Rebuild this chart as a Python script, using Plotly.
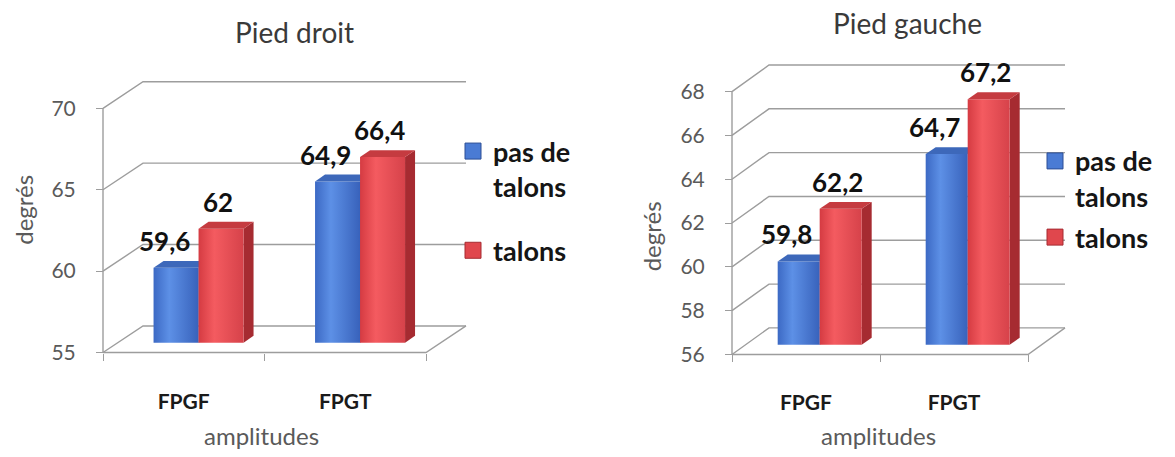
import plotly.graph_objects as go

W, H = 1175, 457

# ---- data -------------------------------------------------------------
categories = ["FPGF", "FPGT"]
series_names = ["pas de<br>talons", "talons"]

droit_sans_talons = [59.6, 64.9]
droit_talons = [62.0, 66.4]
gauche_sans_talons = [59.8, 64.7]
gauche_talons = [62.2, 67.2]

droit_ticks = [55, 60, 65, 70]
gauche_ticks = [56, 58, 60, 62, 64, 66, 68]

# ---- styling ----------------------------------------------------------
FONT = "Lato"
GRID = "#9d9d9d"
TXT_GRAY = "#5a5a5a"

FRONT_SCALES = [
    [[0, "#3c69c4"], [0.35, "#5d90e6"], [1, "#3862bb"]],
    [[0, "#d53b42"], [0.35, "#f45b60"], [1, "#d6424a"]],
]
TOP_COLORS = ["#3d68ba", "#c53b40"]
SIDE_COLORS = ["#2c4e95", "#a62b31"]
LEGEND_COLORS = ["#4a7bd4", "#e0474d"]

BAR_PLANE = 0.37          # fraction of floor depth where bars stand
BAR_DEPTH_PX = (10, 7)    # bar depth in pixels (x, y)


def px_x(p):
    return p / W


def px_y(p):
    return 1 - p / H


def fmt(v):
    return f"{v:g}".replace(".", ",")


panels = [
    dict(name="Pied droit", values=[droit_sans_talons, droit_talons], ticks=droit_ticks,
         left=103, right=426, bottom=358, top=110, depth=(40, 27), bar_w=45,
         title_xy=(295, 33), ytitle_xy=(24, 213), xtitle_xy=(261, 442),
         legend_xy=(453, 129), legend_gap=26),
    dict(name="Pied gauche", values=[gauche_sans_talons, gauche_talons], ticks=gauche_ticks,
         left=732, right=1028, bottom=360, top=93, depth=(37, 27), bar_w=42,
         title_xy=(907, 23), ytitle_xy=(651, 240), xtitle_xy=(878, 442),
         legend_xy=(1035, 139), legend_gap=3),
]

fig = go.Figure()
annotations = []
layout_axes = {}

for k, p in enumerate(panels):
    xa = "x" if k == 0 else f"x{k + 1}"
    ya = "y" if k == 0 else f"y{k + 1}"
    ymin, ymax = p["ticks"][0], p["ticks"][-1]
    ppx = (p["right"] - p["left"]) / 2.0
    ppy = (p["bottom"] - p["top"]) / (ymax - ymin)
    ddx = p["depth"][0] / ppx
    ddy = p["depth"][1] / ppy
    x_lo, x_hi = -0.5, 1.5

    # plotting area extends a little beyond the box so edge lines are not clipped
    pad = 4
    dom_l = p["left"] - pad
    dom_r = p["right"] + p["depth"][0] + 6
    dom_t = p["top"] - p["depth"][1] - 6
    dom_b = p["bottom"] + pad

    def line(xs, ys):
        fig.add_trace(go.Scatter(x=xs, y=ys, mode="lines", xaxis=xa, yaxis=ya,
                                 line=dict(color=GRID, width=1.4),
                                 hoverinfo="skip", showlegend=False))

    # back wall gridlines and side-wall diagonals
    for t in p["ticks"]:
        line([x_lo, x_lo + ddx, x_hi + ddx], [t, t + ddy, t + ddy])
    # floor
    line([x_lo, x_hi, x_hi + ddx], [ymin, ymin, ymin + ddy])
    # front vertical axis
    line([x_lo, x_lo], [ymin, ymax])

    # 3-D columns
    bw = p["bar_w"] / ppx
    bdx = BAR_DEPTH_PX[0] / ppx
    bdy = BAR_DEPTH_PX[1] / ppy
    base = ymin + BAR_PLANE * ddy
    for i in range(len(categories)):
        for s, vals in enumerate(p["values"]):
            v = vals[i]
            x0 = i + BAR_PLANE * ddx + (s - 1) * bw
            x1 = x0 + bw
            top = v + BAR_PLANE * ddy
            # side face
            fig.add_trace(go.Scatter(
                x=[x1, x1 + bdx, x1 + bdx, x1, x1],
                y=[base, base + bdy, top + bdy, top, base],
                fill="toself", fillcolor=SIDE_COLORS[s], mode="lines",
                line=dict(width=0, color=SIDE_COLORS[s]),
                xaxis=xa, yaxis=ya, hoverinfo="skip", showlegend=False))
            # front face
            fig.add_trace(go.Scatter(
                x=[x0, x1, x1, x0, x0], y=[base, base, top, top, base],
                fill="toself", mode="lines",
                fillgradient=dict(type="horizontal", colorscale=FRONT_SCALES[s]),
                line=dict(width=0, color=FRONT_SCALES[s][1][1]),
                xaxis=xa, yaxis=ya, hoverinfo="skip", showlegend=False))
            # top face
            fig.add_trace(go.Scatter(
                x=[x0, x1, x1 + bdx, x0 + bdx, x0],
                y=[top, top, top + bdy, top + bdy, top],
                fill="toself", fillcolor=TOP_COLORS[s], mode="lines",
                line=dict(width=0, color=TOP_COLORS[s]),
                xaxis=xa, yaxis=ya, hoverinfo="skip", showlegend=False))
            annotations.append(dict(
                x=(x0 + x1) / 2, y=top, xref=xa, yref=ya, text=fmt(v),
                showarrow=False, yshift=27, xshift=-12 if s == 0 else -3,
                yanchor="middle",
                font=dict(family=FONT, size=26, color="#111111", weight="bold")))

    # legend entries
    leg = "legend" if k == 0 else "legend2"
    for s, nm in enumerate(series_names):
        fig.add_trace(go.Scatter(
            x=[None], y=[None], mode="markers", name=nm, legend=leg,
            legendgroup=f"{leg}-{s}", xaxis=xa, yaxis=ya,
            marker=dict(symbol="square", size=16, color=LEGEND_COLORS[s],
                        line=dict(color=SIDE_COLORS[s], width=1))))

    layout_axes["xaxis" if k == 0 else f"xaxis{k + 1}"] = dict(
        domain=[px_x(dom_l), px_x(dom_r)],
        range=[x_lo - pad / ppx, x_lo + (dom_r - p["left"]) / ppx],
        anchor="free", position=px_y(p["bottom"]),
        tickmode="array", tickvals=list(range(len(categories))), ticktext=categories,
        ticks="", showline=False, showgrid=False, zeroline=False,
        ticklabelstandoff=34,
        tickfont=dict(family=FONT, size=21, color="#1a1a1a", weight="bold"),
        minor=dict(tickmode="array", tickvals=[-0.5, 0.5, 1.5], ticks="outside",
                   ticklen=7, tickcolor=GRID, tickwidth=1.4, showgrid=False),
        fixedrange=True,
    )
    layout_axes["yaxis" if k == 0 else f"yaxis{k + 1}"] = dict(
        domain=[px_y(dom_b), px_y(dom_t)],
        range=[ymin - pad / ppy, ymin + (p["bottom"] - dom_t) / ppy],
        anchor="free", position=px_x(p["left"]),
        tickmode="array", tickvals=p["ticks"], ticks="outside", ticklen=7,
        tickcolor=GRID, tickwidth=1.4, ticklabelstandoff=16,
        showline=False, showgrid=False, zeroline=False,
        tickfont=dict(family=FONT, size=21, color=TXT_GRAY),
        fixedrange=True,
    )

    # titles
    annotations.append(dict(
        x=px_x(p["title_xy"][0]), y=px_y(p["title_xy"][1]), xref="paper", yref="paper",
        text=p["name"], showarrow=False, xanchor="center", yanchor="middle",
        font=dict(family=FONT, size=28, color="#3a3a3a")))
    annotations.append(dict(
        x=px_x(p["ytitle_xy"][0]), y=px_y(p["ytitle_xy"][1]), xref="paper", yref="paper",
        text="degrés", textangle=-90, showarrow=False, xanchor="center", yanchor="middle",
        font=dict(family=FONT, size=24, color=TXT_GRAY)))
    annotations.append(dict(
        x=px_x(p["xtitle_xy"][0]), y=px_y(p["xtitle_xy"][1]), xref="paper", yref="paper",
        text="amplitudes", showarrow=False, xanchor="center", yanchor="middle",
        font=dict(family=FONT, size=24, color=TXT_GRAY)))

    layout_axes[leg] = dict(
        x=px_x(p["legend_xy"][0]), y=px_y(p["legend_xy"][1]),
        xanchor="left", yanchor="top", bgcolor="rgba(0,0,0,0)",
        font=dict(family=FONT, size=27, color="#151515", weight="bold"),
        valign="top", tracegroupgap=p["legend_gap"], itemwidth=30)

fig.update_layout(
    width=W, height=H, margin=dict(l=0, r=0, t=0, b=0),
    paper_bgcolor="white", plot_bgcolor="rgba(0,0,0,0)",
    annotations=annotations, showlegend=True, **layout_axes,
)

fig.write_html("out.html")
